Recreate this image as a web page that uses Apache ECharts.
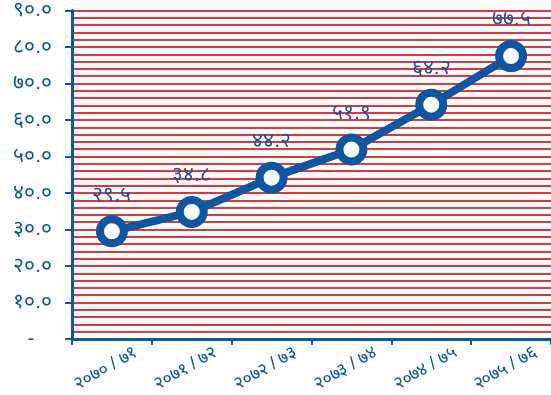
<!DOCTYPE html>
<html>
<head>
<meta charset="utf-8">
<script src="https://cdn.jsdelivr.net/npm/echarts@6/dist/echarts.min.js"></script>
<style>
  html, body { margin: 0; padding: 0; background: #fff; }
  #chart { width: 551px; height: 395px; }
</style>
</head>
<body>
<div id="chart"></div>
<script>
// Fiscal years (Bikram Sambat)
const categories = ['२०७० / ७१', '२०७१ / ७२', '२०७२ / ७३', '२०७३ / ७४', '२०७४ / ७५', '२०७५ / ७६'];
// Series values
const values = [29.5, 34.8, 44.2, 51.9, 64.2, 77.5];
// Y axis range
const yMin = 0;
const yMax = 90;
const yStep = 10;

const BLUE = '#0b57a4';
const RED = '#e8333b';
const FONT = 'sans-serif';

const devaDigits = ['०', '१', '२', '३', '४', '५', '६', '७', '८', '९'];
function toDeva(str) {
  return String(str).replace(/[0-9]/g, d => devaDigits[+d]);
}

const chart = echarts.init(document.getElementById('chart'));
chart.setOption({
  animation: false,
  grid: { left: 72, right: -1, top: 10, bottom: 55 },
  xAxis: {
    type: 'category',
    data: categories,
    boundaryGap: true,
    axisLine: { lineStyle: { color: BLUE, width: 3 } },
    axisTick: { show: true, length: 6, lineStyle: { color: BLUE, width: 2 } },
    axisLabel: {
      rotate: 30,
      align: 'center',
      verticalAlign: 'middle',
      margin: 26,
      padding: [0, 14, 0, 0],
      color: BLUE,
      fontSize: 18,
      fontFamily: FONT,
      interval: 0
    },
    splitLine: { show: false }
  },
  yAxis: {
    type: 'value',
    min: yMin,
    max: yMax,
    interval: yStep,
    axisLine: { show: true, lineStyle: { color: BLUE, width: 3 } },
    axisTick: { show: true, length: 7, lineStyle: { color: BLUE, width: 2 } },
    axisLabel: {
      margin: 20,
      color: BLUE,
      fontSize: 21,
      fontFamily: FONT,
      formatter: v => v === 0 ? '-\u00a0\u00a0\u00a0' : toDeva(v.toFixed(1))
    },
    splitLine: { show: true, lineStyle: { color: RED, width: 2 } },
    minorTick: { show: false, splitNumber: 5 },
    minorSplitLine: { show: true, lineStyle: { color: RED, width: 2 } }
  },
  series: [{
    type: 'line',
    data: values,
    symbol: 'circle',
    symbolSize: 24,
    lineStyle: { color: BLUE, width: 8 },
    itemStyle: { color: '#fff', borderColor: BLUE, borderWidth: 8 },
    label: {
      show: true,
      position: 'top',
      distance: 10,
      color: BLUE,
      fontSize: 21,
      fontFamily: FONT,
      formatter: p => toDeva(p.value.toFixed(1))
    },
    z: 5
  }]
});
</script>
</body>
</html>
